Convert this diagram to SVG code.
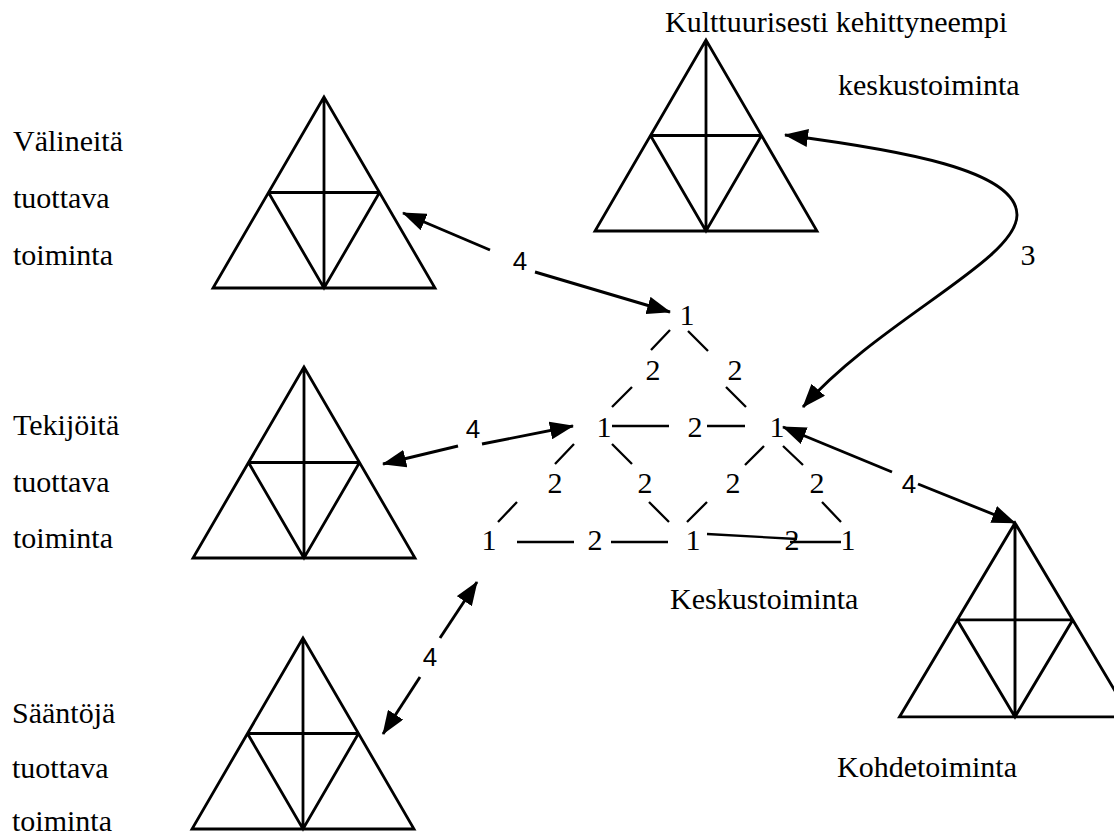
<svg xmlns="http://www.w3.org/2000/svg" width="1114" height="836" viewBox="0 0 1114 836">
  <style>
    .lbl { font-family: 'Liberation Serif', 'DejaVu Serif', serif; font-size: 30px; fill: #000; }
    .num { font-family: 'Liberation Serif', 'DejaVu Serif', serif; font-size: 30px; fill: #000; text-anchor: middle; }
    .four { font-family: 'Liberation Sans', 'DejaVu Sans', sans-serif; font-size: 26px; fill: #000; text-anchor: middle; }
    .tri { fill: none; stroke: #000; stroke-width: 2.8; stroke-linejoin: miter; }
    .dash { stroke: #000; stroke-width: 2.3; fill: none; }
    .arr { stroke: #000; stroke-width: 2.9; fill: none; }
  </style>
  <defs>
    <!-- activity system triangle: apex at origin, base 222 wide -->
    <path id="activity" class="tri" d="M0,0 L-111,191 L111,191 Z M-55.5,95.5 L55.5,95.5 M0,0 L0,191 M-55.5,95.5 L0,191 L55.5,95.5"/>
    <marker id="head" markerUnits="userSpaceOnUse" viewBox="0 0 24 18" markerWidth="24" markerHeight="18" refX="23" refY="9" orient="auto-start-reverse">
      <path d="M0,0 L24,9 L0,18 Z" fill="#000"/>
    </marker>
  </defs>
  <rect width="1114" height="836" fill="#fff"/>

  <!-- neighbouring activity systems -->
  <g id="valineita" font-family="Liberation Serif, DejaVu Serif, serif">
    <use href="#activity" transform="translate(324,97)"/>
    <text class="lbl" x="13" y="151">Välineitä</text>
    <text class="lbl" x="13" y="208">tuottava</text>
    <text class="lbl" x="13" y="265">toiminta</text>
  </g>
  <g id="tekijoita" font-family="Liberation Serif, DejaVu Serif, serif">
    <use href="#activity" transform="translate(304,367)"/>
    <text class="lbl" x="13" y="435">Tekijöitä</text>
    <text class="lbl" x="13" y="492">tuottava</text>
    <text class="lbl" x="13" y="548">toiminta</text>
  </g>
  <g id="saantoja" font-family="Liberation Serif, DejaVu Serif, serif">
    <use href="#activity" transform="translate(303,638)"/>
    <text class="lbl" x="12" y="723">Sääntöjä</text>
    <text class="lbl" x="12" y="778">tuottava</text>
    <text class="lbl" x="12" y="831">toiminta</text>
  </g>
  <g id="kulttuurisesti" font-family="Liberation Serif, DejaVu Serif, serif">
    <use href="#activity" transform="translate(706,40)"/>
    <text class="lbl" x="665" y="32">Kulttuurisesti kehittyneempi</text>
    <text class="lbl" x="838" y="95">keskustoiminta</text>
  </g>
  <g id="kohdetoiminta" font-family="Liberation Serif, DejaVu Serif, serif">
    <use href="#activity" transform="translate(1015,523) scale(1.04,1.015)"/>
    <text class="lbl" x="837" y="777">Kohdetoiminta</text>
  </g>

  <!-- central activity system: nodes 1, contradictions 2 -->
  <g id="keskustoiminta" font-family="Liberation Serif, DejaVu Serif, serif">
    <text class="num" x="687" y="325">1</text>
    <text class="num" x="653" y="380">2</text>
    <text class="num" x="735" y="380">2</text>
    <text class="num" x="604" y="437">1</text>
    <text class="num" x="695" y="437">2</text>
    <text class="num" x="777" y="437">1</text>
    <text class="num" x="555" y="493">2</text>
    <text class="num" x="645" y="493">2</text>
    <text class="num" x="733" y="493">2</text>
    <text class="num" x="817" y="493">2</text>
    <text class="num" x="489" y="550">1</text>
    <text class="num" x="595" y="550">2</text>
    <text class="num" x="693" y="550">1</text>
    <text class="num" x="792" y="550">2</text>
    <text class="num" x="848" y="550">1</text>
    <text class="lbl" x="670" y="609">Keskustoiminta</text>
    <g class="dash">
      <path d="M670,330 L651,350 M688,331 L708,351"/>
      <path d="M632,387 L612,407 M726,387 L746,407"/>
      <path d="M612,426 L669,426 M707,426 L745,426"/>
      <path d="M574,444 L555,464 M612,444 L632,464"/>
      <path d="M764,446 L745,465 M783,446 L803,465"/>
      <path d="M517,502 L498,522 M649,502 L669,522"/>
      <path d="M707,502 L687,522 M822,502 L841,522"/>
      <path d="M517,542 L574,542 M611,542 L668,542"/>
      <path d="M707,534 L797,539 M790,542 L841,542"/>
    </g>
  </g>

  <!-- connectors between activity systems -->
  <g id="connectors">
    <path class="arr" d="M490,250 L403,213" marker-end="url(#head)"/>
    <path class="arr" d="M535,272 L670,312" marker-end="url(#head)"/>
    <text class="four" x="520" y="270">4</text>

    <path class="arr" d="M458,446 L383,464" marker-end="url(#head)"/>
    <path class="arr" d="M482,444 L573,426" marker-end="url(#head)"/>
    <text class="four" x="473" y="438">4</text>

    <path class="arr" d="M440,638 L477,582" marker-end="url(#head)"/>
    <path class="arr" d="M420,677 L383,734" marker-end="url(#head)"/>
    <text class="four" x="430" y="666">4</text>

    <path class="arr" d="M892,472 L783,427" marker-end="url(#head)"/>
    <path class="arr" d="M918,484 L1015,523" marker-end="url(#head)"/>
    <text class="four" x="909" y="493">4</text>

    <path class="arr" d="M785,135 C 900,150 1017,170 1017,215 C 1017,260 880,320 803,407" marker-start="url(#head)" marker-end="url(#head)"/>
    <text class="num" x="1028" y="265" font-family="Liberation Serif, DejaVu Serif, serif">3</text>
  </g>
</svg>
